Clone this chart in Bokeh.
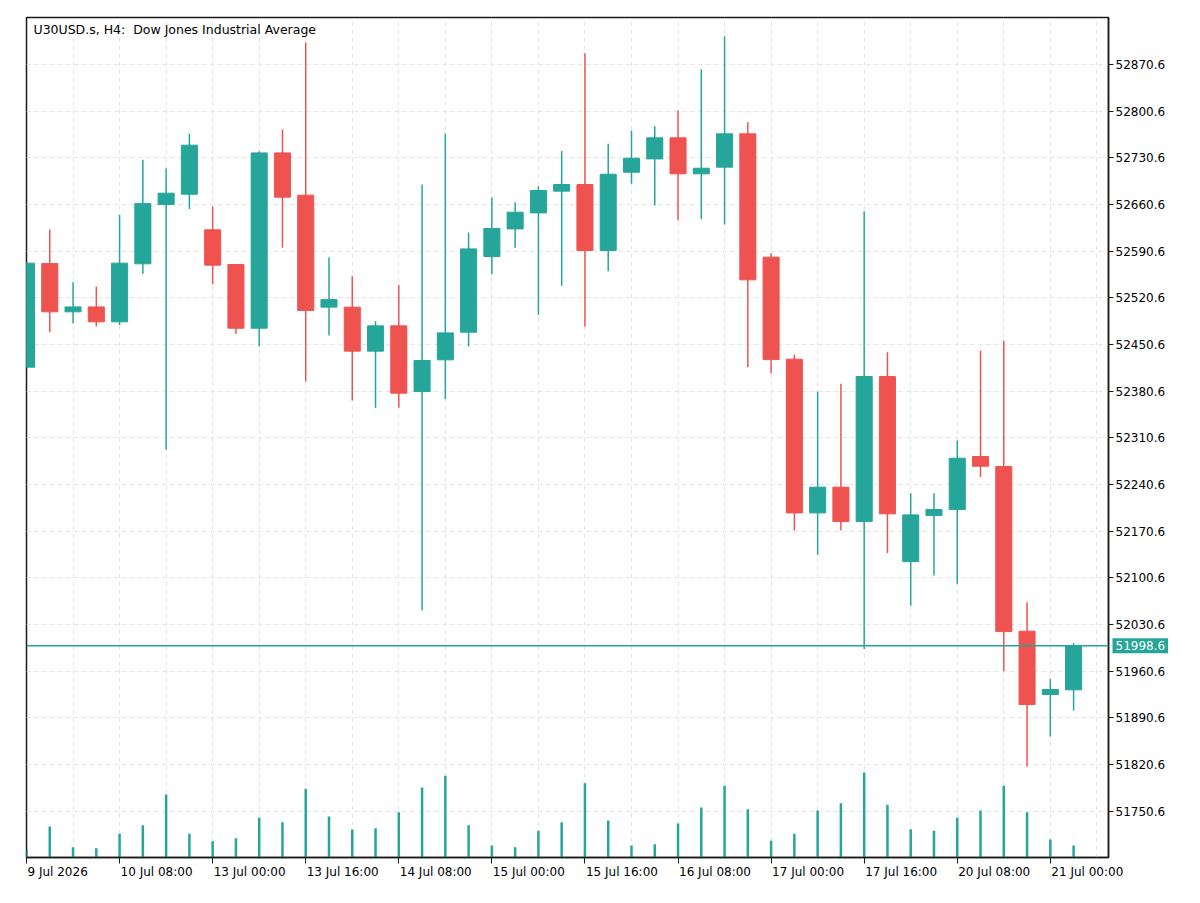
from bokeh.plotting import figure
from bokeh.models import (Range1d, FixedTicker, PrintfTickFormatter, Span, Label,
                          ColumnDataSource)
from bokeh.embed import file_html
from bokeh.resources import INLINE

# ---------------- data (U30USD.s, H4) ----------------
opens = [52416.6, 52572.0, 52499.6, 52507.0, 52484.6, 52571.6, 52660.6, 52676.0,
         52622.6, 52570.6, 52475.0, 52738.0, 52674.6, 52506.6, 52506.6, 52440.6,
         52478.6, 52380.0, 52427.6, 52469.0, 52582.6, 52624.0, 52648.0, 52680.6,
         52690.6, 52591.6, 52709.0, 52729.0, 52760.6, 52706.6, 52716.6, 52766.6,
         52581.6, 52428.6, 52198.0, 52236.6, 52185.0, 52402.6, 52125.0, 52194.0,
         52203.0, 52282.6, 52267.6, 52020.6, 51925.6, 51932.6]
highs = [52575.0, 52623.0, 52544.0, 52537.6, 52645.0, 52727.6, 52714.6, 52766.6,
         52657.6, 52571.0, 52740.6, 52773.0, 52903.6, 52581.6, 52553.0, 52485.6,
         52540.0, 52690.6, 52767.0, 52618.6, 52671.0, 52664.0, 52688.0, 52741.0,
         52887.6, 52751.6, 52771.6, 52778.0, 52801.6, 52863.0, 52913.0, 52784.0,
         52587.6, 52435.6, 52380.0, 52391.6, 52650.6, 52439.0, 52227.6, 52227.6,
         52306.6, 52441.6, 52456.6, 52064.0, 51949.0, 52003.0]
lows = [52415.0, 52469.0, 52482.0, 52477.6, 52480.0, 52556.6, 52292.6, 52654.0,
        52541.0, 52466.6, 52447.6, 52595.6, 52395.0, 52464.0, 52366.6, 52355.6,
        52355.6, 52051.6, 52369.0, 52447.6, 52556.0, 52595.6, 52495.0, 52538.6,
        52477.6, 52560.6, 52691.6, 52659.0, 52636.6, 52639.0, 52630.6, 52416.6,
        52407.6, 52171.6, 52135.0, 52171.6, 51994.0, 52137.6, 52059.0, 52104.0,
        52091.6, 52251.6, 51960.6, 51817.6, 51862.6, 51901.6]
closes = [52572.6, 52499.6, 52507.0, 52484.6, 52572.6, 52662.0, 52677.6, 52749.6,
          52569.6, 52475.0, 52738.0, 52671.6, 52501.6, 52518.0, 52440.6, 52478.6,
          52377.6, 52426.6, 52468.0, 52594.0, 52624.6, 52649.0, 52681.6, 52690.6,
          52591.6, 52706.0, 52730.0, 52760.6, 52706.6, 52715.0, 52766.6, 52547.6,
          52428.0, 52198.0, 52236.6, 52185.0, 52402.6, 52196.6, 52195.0, 52203.0,
          52280.0, 52268.0, 52020.0, 51910.6, 51933.0, 51998.6]
tick_volumes = [500, 1860, 620, 560, 1420, 1940, 3780, 1420, 980, 1160, 2380, 2120,
                4120, 2460, 1680, 1760, 2720, 4200, 4900, 1940, 720, 620, 1600, 2120,
                4460, 2220, 720, 800, 2040, 3000, 4300, 2900, 1000, 1420, 2820, 3260,
                5100, 3160, 1700, 1600, 2380, 2820, 4300, 2720, 1080, 720]
current_price = 51998.6

x_tick_positions = [0, 4, 8, 12, 16, 20, 24, 28, 32, 36, 40, 44]
x_tick_labels = ["9 Jul 2026", "10 Jul 08:00", "13 Jul 00:00", "13 Jul 16:00",
                 "14 Jul 08:00", "15 Jul 00:00", "15 Jul 16:00", "16 Jul 08:00",
                 "17 Jul 00:00", "17 Jul 16:00", "20 Jul 08:00", "21 Jul 00:00"]
y_ticks = [51750.6, 51820.6, 51890.6, 51960.6, 52030.6, 52100.6, 52170.6, 52240.6,
           52310.6, 52380.6, 52450.6, 52520.6, 52590.6, 52660.6, 52730.6, 52800.6,
           52870.6]
title_text = "U30USD.s, H4:\u00a0\u00a0Dow Jones Industrial Average"

# ---------------- styling ----------------
UP = "#26a69a"
DOWN = "#ef5350"
FONT = "DejaVu Sans"
AXIS_C = "#1a1a1a"

n = len(opens)
idx = list(range(n))
colors = [UP if c >= o else DOWN for o, c in zip(opens, closes)]
src = ColumnDataSource(dict(
    idx=idx, open=opens, high=highs, low=lows, close=closes,
    top=[max(o, c) for o, c in zip(opens, closes)],
    bottom=[min(o, c) for o, c in zip(opens, closes)],
    color=colors, vol=tick_volumes,
))

X0, X1 = 0, 46.5
y_lo, y_hi = 51681.1, 52941.1
FRAME_W = 1200 - 26 - 92
PX_PER_BAR = FRAME_W / (X1 - X0)

p = figure(width=1200, height=903, output_backend="svg", toolbar_location=None,
           x_range=Range1d(X0, X1), y_range=Range1d(y_lo, y_hi),
           y_axis_location="right",
           min_border_left=26, min_border_right=92, min_border_top=17,
           min_border_bottom=46)
p.extra_y_ranges = {"vol": Range1d(0, 50400)}
p.background_fill_color = "white"
p.border_fill_color = "white"
p.outline_line_color = AXIS_C
p.outline_line_width = 1.5


# x axis: tick marks (as minor ticks) at each label time, labels left-aligned
def text_width_px(s, size=12.0):
    w = 0.0
    for ch in s:
        if ch.isdigit():
            w += 0.636
        elif ch == " ":
            w += 0.318
        elif ch == "J":
            w += 0.295
        elif ch == "u":
            w += 0.634
        elif ch == "l":
            w += 0.278
        elif ch == ":":
            w += 0.337
        else:
            w += 0.6
    return w * size


label_pos = [round(t + (text_width_px(s) / 2 + 1) / PX_PER_BAR, 3)
             for t, s in zip(x_tick_positions, x_tick_labels)]
xa = p.xaxis[0]
xa.ticker = FixedTicker(ticks=label_pos, minor_ticks=x_tick_positions)
xa.major_label_overrides = {k: v for k, v in zip(label_pos, x_tick_labels)}
xa.major_label_text_font = FONT
xa.major_label_text_font_size = "12px"
xa.major_label_text_color = "black"
xa.major_tick_line_color = None
xa.major_tick_in = 0
xa.major_tick_out = 0
xa.minor_tick_in = 0
xa.minor_tick_out = 6
xa.minor_tick_line_color = AXIS_C
xa.minor_tick_line_width = 1
xa.axis_line_color = AXIS_C
xa.axis_line_width = 1.5
xa.major_label_standoff = 1

ya = p.yaxis[0]
ya.ticker = FixedTicker(ticks=y_ticks)
ya.formatter = PrintfTickFormatter(format="%.1f")
ya.major_label_text_font = FONT
ya.major_label_text_font_size = "12px"
ya.major_label_text_color = "black"
ya.major_tick_in = 0
ya.major_tick_out = 5
ya.minor_tick_line_color = None
ya.axis_line_color = AXIS_C
ya.axis_line_width = 1.5
ya.major_tick_line_color = AXIS_C
ya.major_label_standoff = 2

# grid
p.xgrid.ticker = FixedTicker(ticks=list(range(0, 47, 2)))
p.ygrid.ticker = FixedTicker(ticks=y_ticks)
p.grid.grid_line_color = "#e3e3e3"
p.grid.grid_line_dash = "4 4"
p.grid.grid_line_width = 1

# volumes
p.segment(x0="idx", y0=0, x1="idx", y1="vol", source=src, line_color=UP,
          line_width=2.5, y_range_name="vol")

# candles
p.segment(x0="idx", y0="low", x1="idx", y1="high", source=src,
          line_color="color", line_width=1.5)
p.vbar(x="idx", width=0.69, top="top", bottom="bottom", source=src,
       fill_color="color", line_color="color", line_width=1)

# current price line
p.add_layout(Span(location=current_price, dimension="width", line_color=UP,
                  line_width=1.5))
# price tag on the price axis (placed in a side panel so it is not clipped to the frame)
p.add_layout(Label(x=X1, x_offset=4, y=current_price,
                   text="%.1f" % current_price,
                   text_color="white", text_font=FONT, text_font_size="12px",
                   text_baseline="middle", text_align="left",
                   background_fill_color=UP, padding=3), "below")

# title
p.add_layout(Label(x=0.3, y=y_hi - 18, text=title_text, text_font=FONT,
                   text_font_size="12.5px", text_color="black",
                   text_baseline="middle", text_align="left"))

open("out.html", "w").write(file_html(p, INLINE))
